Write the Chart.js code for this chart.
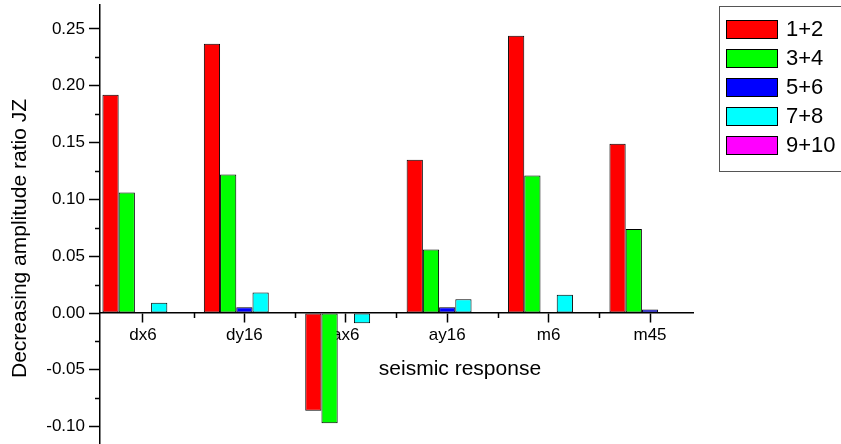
<!DOCTYPE html>
<html>
<head>
<meta charset="utf-8">
<script src="https://cdn.jsdelivr.net/npm/chart.js@4/dist/chart.umd.min.js"></script>
<style>
  html, body { margin: 0; padding: 0; background: #fff; }
  #wrap { width: 841px; height: 444px; }
</style>
</head>
<body>
<div id="wrap"><canvas id="chartCanvas"></canvas></div>
<script>
// data
const categories = ["dx6", "dy16", "ax6", "ay16", "m6", "m45"];
const seriesNames = ["1+2", "3+4", "5+6", "7+8", "9+10"];
const s12 = [0.192, 0.237, -0.086, 0.135, 0.244, 0.149];
const s34 = [0.106, 0.122, -0.097, 0.056, 0.121, 0.074];
const s56 = [0, 0.005, 0, 0.005, 0, 0.003];
const s78 = [0.009, 0.018, -0.009, 0.012, 0.016, 0];
const s910 = [0, 0, 0, 0, 0, 0];
const yTicks = [-0.10, -0.05, 0.00, 0.05, 0.10, 0.15, 0.20, 0.25];

const colors = ["#ff0000", "#00ff00", "#0000ff", "#00ffff", "#ff00ff"];
const allSeries = [s12, s34, s56, s78, s910];
const FONT = "'Liberation Sans', Arial, sans-serif";

const datasets = allSeries.map((vals, k) => ({
    label: seriesNames[k],
    data: vals.map((v, i) => ({ x: i, y: v })),
    backgroundColor: colors[k],
    borderColor: "#000",
    borderWidth: 1,
    borderSkipped: false,
    categoryPercentage: 0.8,
    barPercentage: 1.0
}));

// minor ticks, axis titles and the boxed legend, drawn the Origin way
const originPlugin = {
    id: "originPlugin",
    afterDraw(chart) {
        const ctx = chart.ctx;
        const xs = chart.scales.x;
        const ys = chart.scales.y;
        const area = chart.chartArea;
        const y0 = ys.getPixelForValue(0);

        ctx.save();
        ctx.strokeStyle = "#000";
        ctx.lineWidth = 1.5;
        ctx.beginPath();
        for (let i = 0; i < yTicks.length - 1; i++) {
            let py = Math.round(ys.getPixelForValue((yTicks[i] + yTicks[i + 1]) / 2)) + 0.5;
            ctx.moveTo(area.left, py);
            ctx.lineTo(area.left - 5, py);
        }
        for (let i = 0; i < categories.length - 1; i++) {
            let px = Math.round(xs.getPixelForValue(i + 0.5)) + 0.5;
            ctx.moveTo(px, y0);
            ctx.lineTo(px, y0 + 5);
        }
        ctx.stroke();

        // axis titles
        ctx.fillStyle = "#000";
        ctx.font = "21px " + FONT;
        ctx.textAlign = "center";
        ctx.textBaseline = "middle";
        ctx.fillText("seismic response", area.left + 0.607 * (area.right - area.left), y0 + 56);
        ctx.save();
        ctx.translate(20, (area.top + area.bottom) / 2 + 14);
        ctx.rotate(-Math.PI / 2);
        ctx.fillText("Decreasing amplitude ratio JZ", 0, 0);
        ctx.restore();

        // legend
        const lx = area.right + 26;
        const ly = 6;
        ctx.strokeStyle = "#555";
        ctx.lineWidth = 1;
        ctx.strokeRect(lx + 0.5, ly + 0.5, 140, 165);
        ctx.font = "22px " + FONT;
        ctx.textAlign = "left";
        chart.data.datasets.forEach((ds, k) => {
            let top = ly + 14 + k * 29;
            ctx.fillStyle = ds.backgroundColor;
            ctx.fillRect(lx + 7, top, 52, 19);
            ctx.strokeStyle = "#000";
            ctx.strokeRect(lx + 7.5, top + 0.5, 51, 18);
            ctx.fillStyle = "#000";
            ctx.fillText(ds.label, lx + 67, top + 10);
        });
        ctx.restore();
    }
};

let chartCanvas = document.getElementById("chartCanvas");
let chartResult = new Chart(chartCanvas, {
    type: "bar",
    data: { datasets: datasets },
    plugins: [originPlugin],
    options: {
        responsive: true,
        maintainAspectRatio: false,
        animation: false,
        layout: { padding: { top: 5, right: 148, bottom: 0, left: 0 } },
        plugins: {
            legend: { display: false },
            tooltip: { enabled: false }
        },
        scales: {
            x: {
                type: "linear",
                position: { y: 0 },
                offset: false,
                min: -0.424,
                max: 5.424,
                z: 1,
                afterFit: (scale) => {
                    scale.height = 0;
                    scale.paddingLeft = 0;
                    scale.paddingRight = 0;
                },
                afterBuildTicks: (scale) => {
                    scale.ticks = categories.map((c, i) => ({ value: i }));
                },
                grid: {
                    offset: false,
                    drawOnChartArea: false,
                    drawTicks: true,
                    tickLength: 9,
                    tickColor: "#000",
                    tickWidth: 1.5
                },
                border: { display: true, color: "#000", width: 1.5 },
                ticks: {
                    color: "#000",
                    font: { family: FONT, size: 17 },
                    padding: 3,
                    maxRotation: 0,
                    autoSkip: false,
                    callback: (v) => categories[v]
                }
            },
            y: {
                type: "linear",
                min: -0.1153,
                max: 0.2711,
                afterFit: (scale) => {
                    scale.width = 100;
                    scale.paddingTop = 0;
                    scale.paddingBottom = 0;
                },
                afterBuildTicks: (scale) => {
                    scale.ticks = yTicks.map((v) => ({ value: v }));
                },
                grid: {
                    drawOnChartArea: false,
                    drawTicks: true,
                    tickLength: 11,
                    tickColor: "#000",
                    tickWidth: 1.5
                },
                border: { display: true, color: "#000", width: 1.5 },
                ticks: {
                    color: "#000",
                    font: { family: FONT, size: 17 },
                    padding: 4,
                    callback: (v) => v.toFixed(2)
                }
            }
        }
    }
});
</script>
</body>
</html>
